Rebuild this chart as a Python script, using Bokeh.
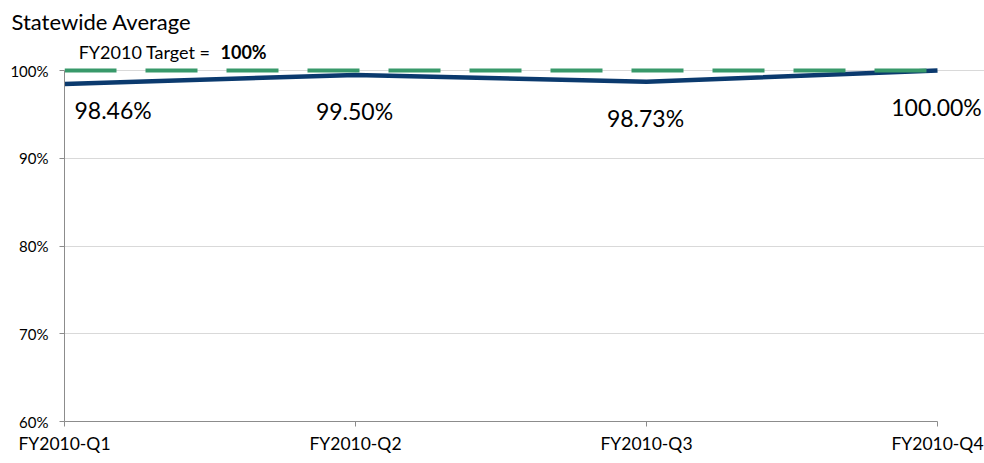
from bokeh.plotting import figure
from bokeh.models import Range1d, FixedTicker, Label, Title
from bokeh.embed import file_html
from bokeh.resources import INLINE
from bokeh.core.properties import value

# ---- data ----
quarters = ["FY2010-Q1", "FY2010-Q2", "FY2010-Q3", "FY2010-Q4"]
statewide = [0.9846, 0.9950, 0.9873, 1.0000]
target = [1.0, 1.0, 1.0, 1.0]
y_ticks = [0.6, 0.7, 0.8, 0.9, 1.0]
y_tick_labels = ["60%", "70%", "80%", "90%", "100%"]
title_text = "Statewide Average"
target_text = "FY2010 Target ="
target_value_text = "100%"

x = list(range(len(quarters)))
labels = [f"{v * 100:.2f}%" for v in statewide]

FONT = "Lato"
NAVY = "#0B3A6E"
GREEN = "#38996A"
AXIS = "#8C8C8C"
GRID = "#D9D9D9"

x_lo, x_hi = 0, len(quarters) - 1
y_lo, y_hi = y_ticks[0], y_ticks[-1]

p = figure(width=984, height=463, output_backend="svg", toolbar_location=None,
           x_range=Range1d(x_lo, x_hi + 0.1615), y_range=Range1d(y_lo, y_hi + 0.0365),
           min_border_left=64, min_border_right=0, min_border_top=38,
           min_border_bottom=42)
p.outline_line_color = None
p.background_fill_color = "white"

p.xgrid.visible = False
p.ygrid.ticker = FixedTicker(ticks=y_ticks)
p.ygrid.grid_line_color = GRID
p.ygrid.grid_line_width = 1
p.ygrid.bounds = (x_lo, x_hi)

p.xaxis.ticker = FixedTicker(ticks=x)
p.xaxis.major_label_overrides = {i: q for i, q in zip(x, quarters)}
p.xaxis.bounds = (x_lo, x_hi)
p.yaxis.ticker = FixedTicker(ticks=y_ticks)
p.yaxis.major_label_overrides = {t: l for t, l in zip(y_ticks, y_tick_labels)}
p.yaxis.bounds = (y_lo, y_hi)

for ax in (p.xaxis, p.yaxis):
    ax.axis_line_color = AXIS
    ax.major_tick_line_color = AXIS
    ax.minor_tick_line_color = None
    ax.major_tick_in = 0
    ax.major_tick_out = 5
    ax.major_label_text_font = FONT
    ax.major_label_text_color = "#000000"
p.xaxis.major_label_text_font_size = "17.5px"
p.xaxis.major_label_standoff = 6
p.yaxis.major_label_text_font_size = "15px"
p.yaxis.major_label_standoff = 11

p.line(x, statewide, line_color=NAVY, line_width=4.5)
p.line(x, target, line_color=GREEN, line_width=4, line_dash="52 29")

p.text(x=x[:1], y=statewide[:1], text=labels[:1], text_align="left",
       text_baseline="middle", x_offset=10, y_offset=26,
       text_font=value(FONT), text_font_size="23px", text_color="#000000")
p.text(x=x[1:], y=statewide[1:], text=labels[1:], text_align="center",
       text_baseline="middle", x_offset=-1, y_offset=36,
       text_font=value(FONT), text_font_size="23px", text_color="#000000")

p.add_layout(Title(text=title_text, align="left", offset=-53,
                   text_font=FONT, text_font_size="22px", text_font_style="normal",
                   text_color="#000000", standoff=8), "above")
p.add_layout(Label(x=0, y=1.0, x_offset=146, y_offset=19, text=target_text,
                   text_font=FONT, text_font_size="18px", text_color="#000000",
                   text_baseline="alphabetic", text_align="right"))
p.add_layout(Label(x=0, y=1.0, x_offset=156, y_offset=19, text=target_value_text,
                   text_font=FONT, text_font_size="18px", text_font_style="bold",
                   text_color="#000000", text_baseline="alphabetic",
                   text_align="left"))

open("out.html", "w").write(file_html(p, INLINE))
